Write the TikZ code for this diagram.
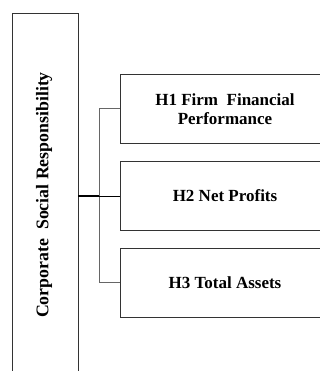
\documentclass[tikz,border=0pt]{standalone}
\usepackage{fontspec}
\setmainfont{Liberation Serif}
\begin{document}
\begin{tikzpicture}[x=1pt,y=-1pt,
  boxline/.style={draw=black!80, line width=0.9pt},
  hbox/.style={boxline, rectangle, minimum width=210pt, minimum height=69pt, inner sep=0pt,
    align=center, font=\bfseries\fontsize{17}{19}\selectfont},
  conn/.style={draw=black!60, line width=1pt}]
\useasboundingbox[clip] (0,0) rectangle (320,371);
\fill[white] (0,0) rectangle (320,371);
% left box
\node[boxline, rectangle, minimum width=65.5pt, minimum height=364pt, inner sep=0pt] (csr) at (45.25,195) {};
\node[rotate=90, font=\bfseries\fontsize{17.8}{19}\selectfont] (csrtext) at (44,195) {Corporate\ \ Social Responsibility};
% hypothesis boxes
\node[hbox] (h1) at (225,108.7) {H1 Firm\ \ Financial\\Performance};
\node[hbox] (h2) at (225,196) {H2 Net Profits};
\node[hbox] (h3) at (225,282.7) {H3 Total Assets};
% connectors
\coordinate (j) at (99.3,196);
\draw[line width=1.8pt, black] (csr.east |- j) -- (j);
\draw[conn] (h1.west) -| (j) |- (h3.west);
\draw[line width=0.9pt, black] (j) -- (h2.west);
\end{tikzpicture}
\end{document}
